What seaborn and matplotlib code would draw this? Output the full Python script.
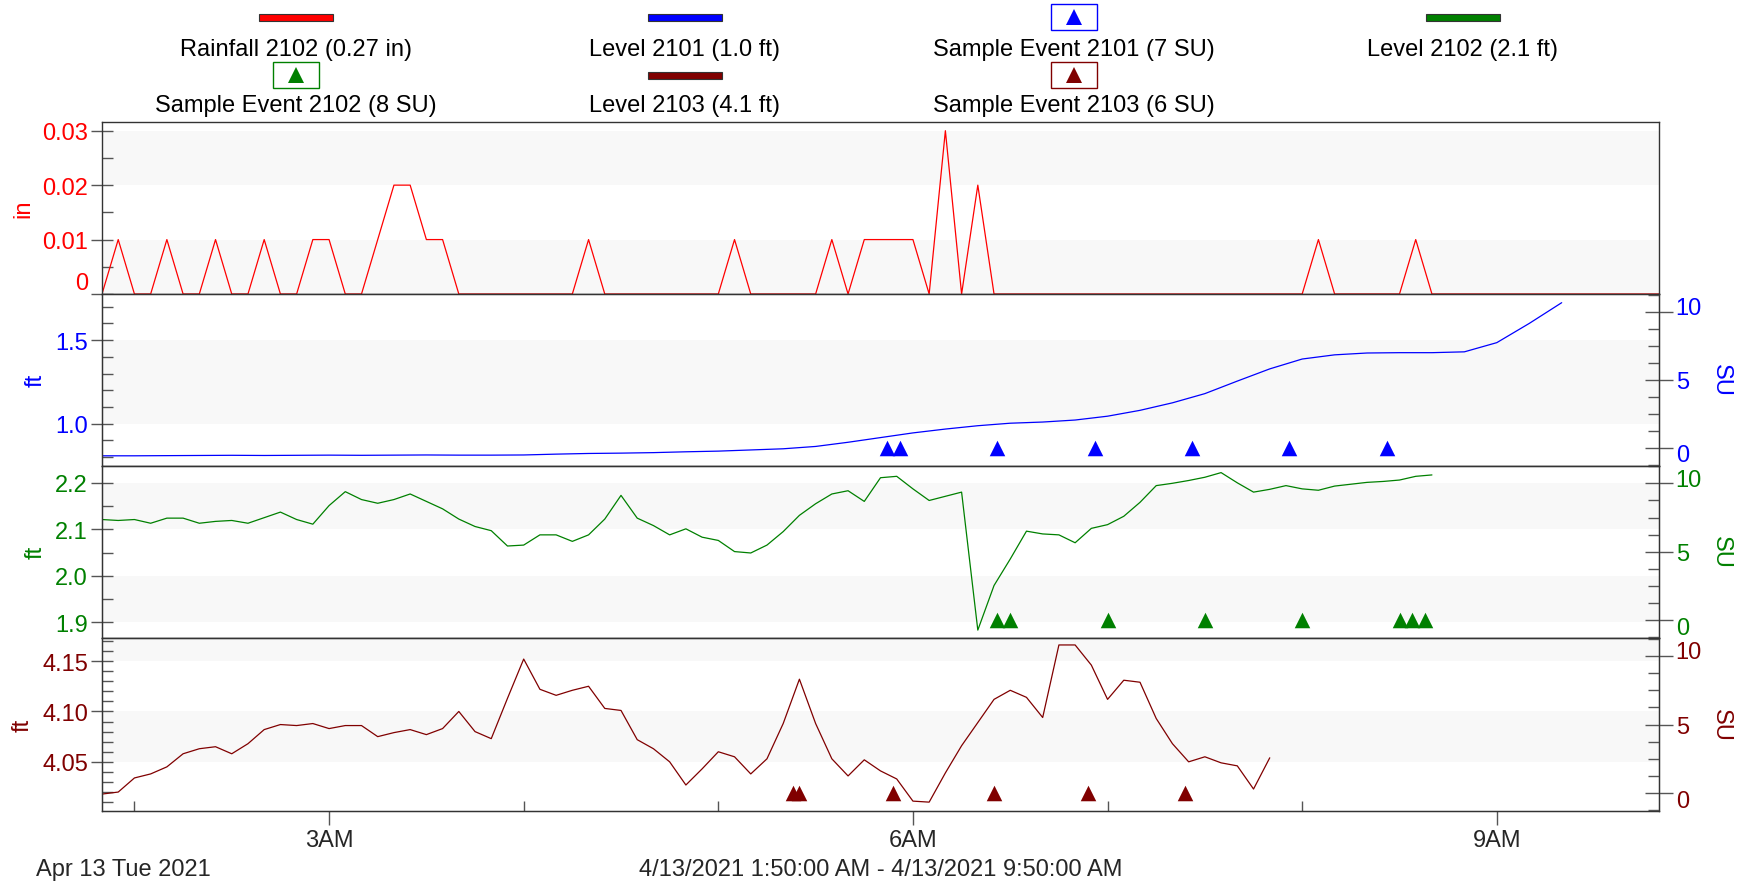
import matplotlib
matplotlib.use("Agg")
import matplotlib.pyplot as plt
import matplotlib.dates as mdates
from matplotlib import font_manager
from matplotlib.patches import Rectangle
from matplotlib.lines import Line2D
from matplotlib.transforms import ScaledTranslation
from matplotlib.ticker import MultipleLocator, FixedLocator, FuncFormatter
import seaborn as sns
import pandas as pd

# --- data (Apr 13 2021, 1:50 AM - 9:50 AM) ---
day = "2021-04-13 "
t_start = pd.Timestamp(day + "01:50")
t_end = pd.Timestamp(day + "09:50")

# rainfall 2102, 5 min totals (only the non-zero intervals, rest is 0)
rain_times = ["01:55", "02:10", "02:25", "02:40", "02:55", "03:00", "03:15", "03:20",
              "03:25", "03:30", "03:35", "04:20", "05:05", "05:35", "05:45", "05:50",
              "05:55", "06:00", "06:10", "06:20", "08:05", "08:35"]
rain_in = [0.01, 0.01, 0.01, 0.01, 0.01, 0.01, 0.01, 0.02,
           0.02, 0.01, 0.01, 0.01, 0.01, 0.01, 0.01, 0.01,
           0.01, 0.01, 0.03, 0.02, 0.01, 0.01]

# level 2101, every 10 min from 1:50 to 9:20
lvl2101_ft = [0.808, 0.808, 0.809, 0.810, 0.811, 0.810, 0.811, 0.812, 0.811, 0.812,
              0.813, 0.812, 0.812, 0.813, 0.818, 0.822, 0.824, 0.827, 0.832, 0.836,
              0.843, 0.850, 0.864, 0.889, 0.917, 0.945, 0.968, 0.988, 1.003, 1.010,
              1.022, 1.045, 1.080, 1.125, 1.180, 1.255, 1.328, 1.387, 1.412, 1.423,
              1.425, 1.425, 1.430, 1.485, 1.600, 1.724]

# level 2102, every 5 min from 1:50 to 8:40
lvl2102_ft = [2.121, 2.119, 2.121, 2.113, 2.124, 2.124, 2.113, 2.117, 2.119, 2.113,
              2.125, 2.137, 2.121, 2.111, 2.151, 2.181, 2.164, 2.156, 2.164, 2.176,
              2.160, 2.144, 2.122, 2.106, 2.097, 2.064, 2.066, 2.088, 2.088, 2.074,
              2.088, 2.122, 2.173, 2.124, 2.108, 2.088, 2.101, 2.083, 2.076, 2.052,
              2.049, 2.066, 2.095, 2.130, 2.155, 2.176, 2.183, 2.160, 2.211, 2.214,
              2.187, 2.162, 2.171, 2.180, 1.883, 1.979, 2.036, 2.096, 2.090, 2.088,
              2.071, 2.102, 2.110, 2.128, 2.158, 2.194, 2.199, 2.205, 2.212, 2.222,
              2.200, 2.180, 2.186, 2.194, 2.187, 2.184, 2.193, 2.197, 2.201, 2.203,
              2.206, 2.214, 2.217]

# level 2103, every 5 min from 1:50 to 7:50
lvl2103_ft = [4.018, 4.020, 4.034, 4.038, 4.045, 4.058, 4.063, 4.065, 4.058, 4.068,
              4.082, 4.087, 4.086, 4.088, 4.083, 4.086, 4.086, 4.075, 4.079, 4.082,
              4.077, 4.083, 4.100, 4.080, 4.073, 4.113, 4.152, 4.122, 4.116, 4.121,
              4.125, 4.103, 4.101, 4.072, 4.063, 4.050, 4.027, 4.043, 4.060, 4.055,
              4.038, 4.053, 4.088, 4.132, 4.088, 4.053, 4.036, 4.052, 4.041, 4.033,
              4.011, 4.010, 4.039, 4.066, 4.089, 4.112, 4.121, 4.114, 4.094, 4.166,
              4.166, 4.146, 4.112, 4.131, 4.129, 4.093, 4.068, 4.050, 4.055, 4.049,
              4.046, 4.023, 4.054]

# sample events (SU)
ev2101_times = ["05:52", "05:56", "06:26", "06:56", "07:26", "07:56", "08:26"]
ev2101_su = [0, 0, 0, 0, 0, 0, 0]
ev2102_times = ["06:26", "06:30", "07:00", "07:30", "08:00", "08:30", "08:34", "08:38"]
ev2102_su = [0, 0, 0, 0, 0, 0, 0, 0]
ev2103_times = ["05:23", "05:25", "05:54", "06:25", "06:54", "07:24"]
ev2103_su = [0, 0, 0, 0, 0, 0]

legend_labels = ["Rainfall 2102 (0.27 in)", "Level 2101 (1.0 ft)", "Sample Event 2101 (7 SU)",
                 "Level 2102 (2.1 ft)", "Sample Event 2102 (8 SU)", "Level 2103 (4.1 ft)",
                 "Sample Event 2103 (6 SU)"]

# --- build frames ---
rain = pd.Series(rain_in, index=pd.to_datetime([day + t for t in rain_times]))
rain = rain.reindex(pd.date_range(t_start, t_end, freq="5min"), fill_value=0.0)
df_rain = pd.DataFrame({"time": rain.index, "in": rain.values})
df1 = pd.DataFrame({"time": pd.date_range(t_start, periods=len(lvl2101_ft), freq="10min"),
                    "ft": lvl2101_ft})
df2 = pd.DataFrame({"time": pd.date_range(t_start, periods=len(lvl2102_ft), freq="5min"),
                    "ft": lvl2102_ft})
df3 = pd.DataFrame({"time": pd.date_range(t_start, periods=len(lvl2103_ft), freq="5min"),
                    "ft": lvl2103_ft})
ev1 = pd.DataFrame({"time": pd.to_datetime([day + t for t in ev2101_times]), "su": ev2101_su})
ev2 = pd.DataFrame({"time": pd.to_datetime([day + t for t in ev2102_times]), "su": ev2102_su})
ev3 = pd.DataFrame({"time": pd.to_datetime([day + t for t in ev2103_times]), "su": ev2103_su})

# --- style ---
sns.set_style("white")
names = {f.name for f in font_manager.fontManager.ttflist}
if "Liberation Sans Narrow" in names:
    fam, fs = "Liberation Sans Narrow", 20
else:
    fam, fs = "Liberation Sans", 17
plt.rcParams["font.family"] = [fam, "DejaVu Sans"]
plt.rcParams["font.size"] = fs

RED, BLUE, GREEN, DRED = "#FF0000", "#0000FF", "#008000", "#800000"
BAND = "#f8f8f8"
TICK = "#555555"
FW, FH = 1758, 887

fig = plt.figure(figsize=(FW / 100, FH / 100), dpi=100)
L, R = 102, 1659


def frac(top, bot):
    return [L / FW, 1 - bot / FH, (R - L) / FW, (bot - top) / FH]


ax0 = fig.add_axes(frac(123, 295))
ax1 = fig.add_axes(frac(295, 466.5), sharex=ax0)
ax2 = fig.add_axes(frac(466.5, 639), sharex=ax0)
ax3 = fig.add_axes(frac(639, 812), sharex=ax0)

sns.lineplot(data=df_rain, x="time", y="in", ax=ax0, color=RED, lw=0.9)
sns.lineplot(data=df1, x="time", y="ft", ax=ax1, color=BLUE, lw=0.9)
sns.lineplot(data=df2, x="time", y="ft", ax=ax2, color=GREEN, lw=0.9)
sns.lineplot(data=df3, x="time", y="ft", ax=ax3, color=DRED, lw=0.9)

panels = [
    (ax0, RED, "in", (0, 0.0316), 0.01, 0.005, [(0, 0.01), (0.02, 0.03)]),
    (ax1, BLUE, "ft", (0.75, 1.776), 0.5, 0.1, [(1.0, 1.5)]),
    (ax2, GREEN, "ft", (1.866, 2.2373), 0.1, 0.05, [(1.9, 2.0), (2.1, 2.2)]),
    (ax3, DRED, "ft", (4.0012, 4.1729), 0.05, 0.01, [(4.05, 4.10), (4.15, 4.1729)]),
]
for ax, c, lab, ylim, maj, mnr, bands in panels:
    ax.set_ylim(*ylim)
    for b0, b1 in bands:
        ax.axhspan(b0, b1, color=BAND, zorder=0, lw=0)
    ax.yaxis.set_major_locator(MultipleLocator(maj))
    ax.yaxis.set_minor_locator(MultipleLocator(mnr))
    ax.tick_params(axis="y", which="major", direction="inout", length=16, width=1,
                   color=TICK, labelcolor=c, pad=2)
    ax.tick_params(axis="y", which="minor", direction="in", length=8, width=1,
                   color=TICK, left=True)
    ax.tick_params(axis="y", which="both", left=True)
    ax.set_ylabel(lab, color=c, labelpad=6)
    ax.set_xlabel("")
    for s in ax.spines.values():
        s.set_color("#333333")
        s.set_linewidth(1)

ax0.yaxis.set_major_locator(FixedLocator([0, 0.01, 0.02, 0.03]))
ax0.yaxis.set_major_formatter(FuncFormatter(lambda v, p: "0" if abs(v) < 1e-9 else f"{v:.2f}"))
ax1.yaxis.set_major_formatter(FuncFormatter(lambda v, p: f"{v:.1f}"))
ax2.yaxis.set_major_formatter(FuncFormatter(lambda v, p: f"{v:.1f}"))
ax3.yaxis.set_major_formatter(FuncFormatter(lambda v, p: f"{v:.2f}"))
ax0.yaxis.get_major_ticks()[0].label1.set_verticalalignment("bottom")

# sample events on the SU axes
for ax, ev, c in [(ax1, ev1, BLUE), (ax2, ev2, GREEN), (ax3, ev3, DRED)]:
    tw = ax.twinx()
    sns.scatterplot(data=ev, x="time", y="su", ax=tw, marker="^", s=125,
                    color=c, linewidth=0, zorder=5)
    tw.set_ylim(-1.3, 11.3)
    tw.yaxis.set_major_locator(FixedLocator([0, 5, 10]))
    tw.yaxis.set_minor_locator(MultipleLocator(1.25))
    tw.tick_params(axis="y", which="major", direction="inout", length=20, width=1,
                   color=TICK, labelcolor=c, pad=2, right=True)
    tw.tick_params(axis="y", which="minor", direction="in", length=8, width=1,
                   color=TICK, right=True)
    # the outer labels sit a few pixels away from their ticks in the reference
    su_ticks = tw.yaxis.get_major_ticks()
    for tk, dy in ((su_ticks[0], -5), (su_ticks[2], 6)):
        lbl = tk.label2
        lbl.set_transform(lbl.get_transform() + ScaledTranslation(0, dy / 100, fig.dpi_scale_trans))
    tw.set_ylabel("SU", color=c, rotation=270, va="bottom", labelpad=6)
    tw.set_xlabel("")
    for s in tw.spines.values():
        s.set_color("#333333")

# shared time axis
ax3.set_xlim(t_start, t_end)
ax3.xaxis.set_major_locator(mdates.HourLocator(byhour=[3, 6, 9]))
ax3.xaxis.set_minor_locator(mdates.HourLocator())
ax3.xaxis.set_major_formatter(mdates.DateFormatter("%-I%p"))
ax3.tick_params(axis="x", which="major", direction="out", length=10, width=1,
                color=TICK, pad=3, bottom=True)
ax3.tick_params(axis="x", which="minor", direction="in", length=7, width=1,
                color=TICK, bottom=True)
for ax in (ax0, ax1, ax2):
    ax.tick_params(axis="x", which="both", bottom=False, labelbottom=False)

# legend drawn above the panels: handle on top, label below
col_x = [296, 685, 1074, 1463]
slots = [(0, 0), (1, 0), (2, 0), (3, 0), (0, 1), (1, 1), (2, 1)]
kinds = ["line", "line", "tri", "line", "tri", "line", "tri"]
colors = [RED, BLUE, BLUE, GREEN, GREEN, DRED, DRED]
handle_y = [18, 76]
label_y = [50, 106]
for lab, (ci, ri), kind, c in zip(legend_labels, slots, kinds, colors):
    cx, hy = col_x[ci], handle_y[ri]
    if kind == "line":
        fig.add_artist(Rectangle(((cx - 37) / FW, 1 - (hy + 3.5) / FH), 74 / FW, 7 / FH,
                                 transform=fig.transFigure, fc=c, ec="#333333", lw=0.8))
    else:
        fig.add_artist(Rectangle(((cx - 23) / FW, 1 - (hy + 13) / FH), 46 / FW, 26 / FH,
                                 transform=fig.transFigure, fc="white", ec=c, lw=1))
        fig.add_artist(Line2D([cx / FW], [1 - hy / FH], marker="^", ms=11, color=c,
                              mew=0, transform=fig.transFigure))
    fig.text(cx / FW, 1 - label_y[ri] / FH, lab, ha="center", va="center", color="black")

fig.text(36 / FW, 1 - 870 / FH, "Apr 13 Tue 2021", ha="left", va="center")
fig.text((L + R) / 2 / FW, 1 - 870 / FH, "4/13/2021 1:50:00 AM - 4/13/2021 9:50:00 AM",
         ha="center", va="center")

fig.savefig("out.png", dpi=100)
